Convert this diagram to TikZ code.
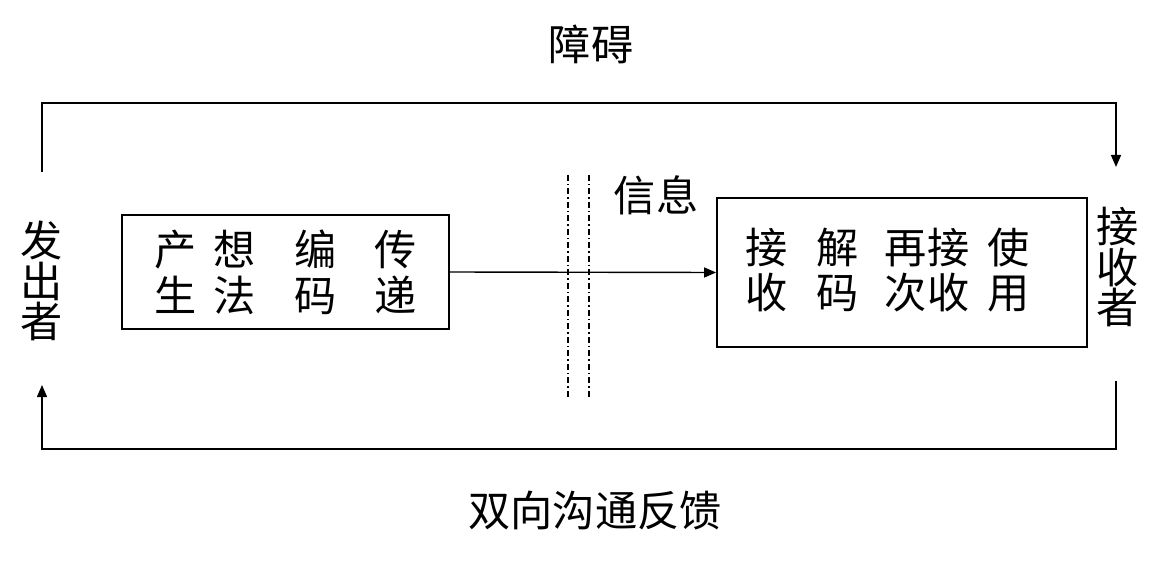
\documentclass[tikz,border=0pt]{standalone}
\usepackage{fontspec}
\newfontfamily\cjk{Noto Sans CJK SC}
\usetikzlibrary{arrows.meta}
\begin{document}
\begin{tikzpicture}[
	every node/.style={font=\cjk\fontsize{24}{24}\selectfont, inner sep=0pt},
	flow/.style={line width=0.8pt, -{Triangle[length=0.24cm,width=0.2cm]}},
	stepbox/.style={draw, line width=1pt, align=center},
	barrier/.style={line width=0.7pt, dash pattern=on 0.12cm off 0.06cm on 0.03cm off 0.06cm}]
	\useasboundingbox (0,0) rectangle (23.5,11.28);
	% sender and receiver
	\node [align=center, font=\cjk\fontsize{24}{23}\selectfont] (sender) at (0.84,5.66) {发\\出\\者};
	\node [align=center, font=\cjk\fontsize{24}{23}\selectfont] (receiver) at (22.36,5.94) {接\\收\\者};
	\coordinate (s top) at (0.84,7.84);
	\coordinate (s bot) at (0.84,3.58);
	\coordinate (r top) at (22.32,7.94);
	\coordinate (r bot) at (22.32,3.66);
	\draw [flow] (s top) -- (0.84,9.22) -- (22.32,9.22) -- (r top);
	\draw [flow] (r bot) -- (22.32,2.3) -- (0.84,2.3) -- (s bot);
	\node (noise) at (11.82,10.4) {障碍};
	\node (feedback) at (11.9,1.08) {双向沟通反馈};
	% boxes
	\node [stepbox, font=\cjk\fontsize{24}{26}\selectfont, minimum width=6.54cm, minimum height=2.28cm] (enc) at (5.71,5.84)
		{产\hspace{0.34cm}想\hspace{0.78cm}编\hspace{0.76cm}传\\生\hspace{0.34cm}法\hspace{0.78cm}码\hspace{0.76cm}递};
	\node [stepbox, minimum width=7.4cm, minimum height=2.98cm] (dec) at (18.04,5.83) {};
	\node [align=center, font=\cjk\fontsize{24}{26}\selectfont] (dectext) at (17.75,5.88)
		{接\hspace{0.58cm}解\hspace{0.52cm}再接\hspace{0.36cm}使\\收\hspace{0.58cm}码\hspace{0.52cm}次收\hspace{0.36cm}用};
	\draw [flow] (enc.east) -- (dec.west);
	\node (info) at (13.12,7.38) {信息};
	\draw [barrier] (11.36,7.78) -- (11.36,3.32);
	\draw [barrier] (11.78,7.78) -- (11.78,3.32);
\end{tikzpicture}
\end{document}
